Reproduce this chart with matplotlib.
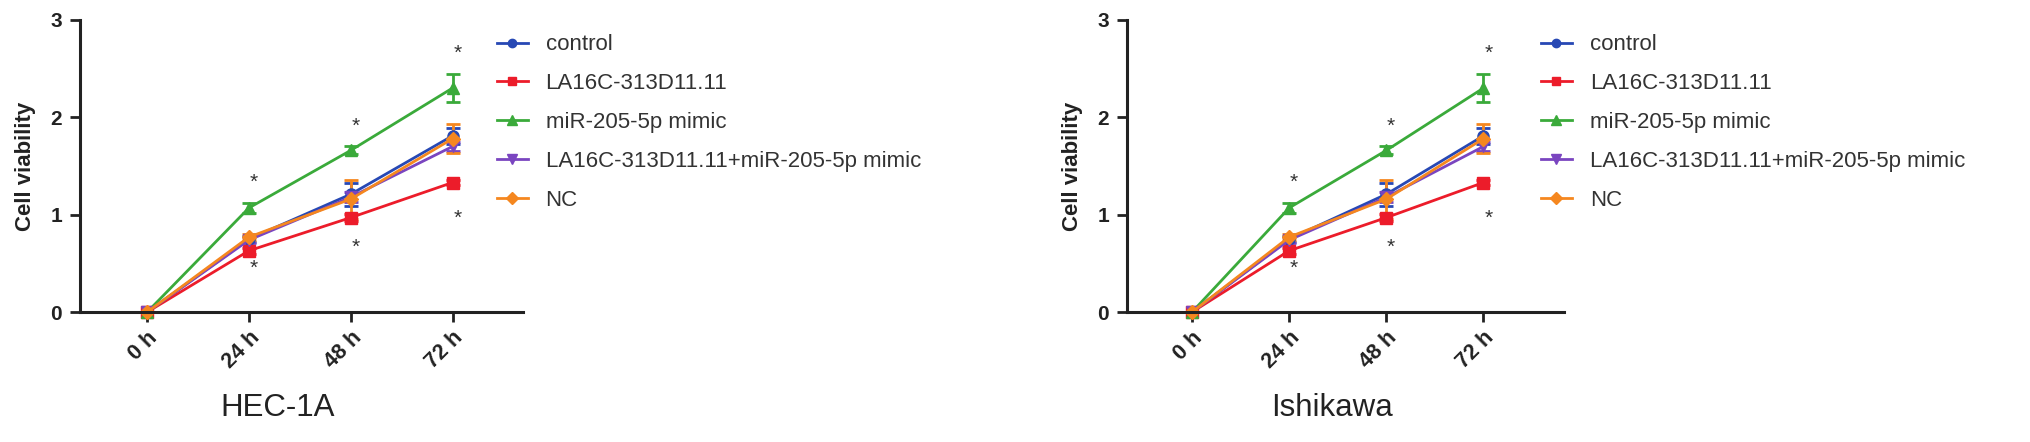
import matplotlib
matplotlib.use("Agg")
import matplotlib.pyplot as plt
from matplotlib.lines import Line2D

plt.rcParams['font.family'] = ['Liberation Sans', 'DejaVu Sans']

# time points and tick labels
times = [0, 1, 2, 3]
time_labels = ['0 h', '24 h', '48 h', '72 h']

# series means
control = [0.0, 0.75, 1.21, 1.81]
la16c = [0.0, 0.63, 0.97, 1.33]
mir205 = [0.0, 1.07, 1.66, 2.30]
combo = [0.0, 0.74, 1.18, 1.70]
nc = [0.0, 0.77, 1.16, 1.78]

# error bars
control_err = [0.0, 0.03, 0.12, 0.08]
la16c_err = [0.0, 0.03, 0.04, 0.03]
mir205_err = [0.0, 0.05, 0.04, 0.14]
combo_err = [0.0, 0.03, 0.05, 0.05]
nc_err = [0.0, 0.03, 0.20, 0.15]

# significance stars (above green / below red)
star_x = [1, 2, 3]
star_hi = [1.33, 1.91, 2.66]
star_lo = [0.45, 0.66, 0.96]

labels = ['control', 'LA16C-313D11.11', 'miR-205-5p mimic',
          'LA16C-313D11.11+miR-205-5p mimic', 'NC']
colors = ['#2748b4', '#ec1c2a', '#3aaa3a', '#7a45c0', '#f5871f']
markers = ['o', 's', '^', 'v', 'D']
msizes = [8, 8.5, 9, 9, 7.5]

series = [control, la16c, mir205, combo, nc]
errors = [control_err, la16c_err, mir205_err, combo_err, nc_err]

panels = [
    ('HEC-1A', [0.0394, 0.294, 0.218, 0.661], (-0.66, 3.69), 0.447, 0.941),
    ('Ishikawa', [0.5549, 0.294, 0.2152, 0.661], (-0.67, 3.83), 0.469, 0.947),
]

fig = plt.figure(figsize=(20.31, 4.42), dpi=100)

for name, rect, xlim, title_x, leg_x in panels:
    ax = fig.add_axes(rect)
    for y, e, c, m, ms in zip(series, errors, colors, markers, msizes):
        ax.errorbar(times, y, yerr=e, color=c, marker=m, markersize=ms,
                    linewidth=2, elinewidth=2, capsize=5, capthick=2,
                    clip_on=False)
    for xs, ys in zip(star_x, star_hi):
        ax.text(xs + 0.05, ys, '*', ha='center', va='center', fontsize=15, color='#333333')
    for xs, ys in zip(star_x, star_lo):
        ax.text(xs + 0.05, ys, '*', ha='center', va='center', fontsize=15, color='#333333')

    ax.set_xlim(*xlim)
    ax.set_ylim(0, 3)
    ax.set_yticks([0, 1, 2, 3])
    ax.set_xticks(times)
    ax.set_xticklabels(time_labels, rotation=45, ha='right', rotation_mode='anchor',
                       fontweight='bold', fontsize=15.5, color='#222222')
    for t in ax.get_yticklabels():
        t.set_fontweight('bold')
        t.set_fontsize(15)
        t.set_color('#222222')
    ax.set_ylabel('Cell viability', fontsize=16, fontweight='bold', color='#222222', labelpad=10)

    for s in ['top', 'right']:
        ax.spines[s].set_visible(False)
    for s in ['left', 'bottom']:
        ax.spines[s].set_linewidth(2.2)
        ax.spines[s].set_color('#222222')
    ax.tick_params(axis='x', width=2, length=7, color='#222222', pad=4)
    ax.tick_params(axis='y', width=2, length=7, color='#222222', pad=6)

    ax.text(title_x, -0.33, name, transform=ax.transAxes, ha='center', va='center',
            fontsize=22.5, color='#222222')

    handles = [Line2D([], [], color=c, marker=m, markersize=ms * 0.75, linewidth=2)
               for c, m, ms in zip(colors, markers, msizes)]
    ax.legend(handles, labels, loc='upper left', bbox_to_anchor=(leg_x, 0.95),
              frameon=False, fontsize=16, labelspacing=0.8, handlelength=1.4,
              handletextpad=0.8, borderpad=0, borderaxespad=0, labelcolor='#333333')

fig.savefig('out.png', dpi=100)
